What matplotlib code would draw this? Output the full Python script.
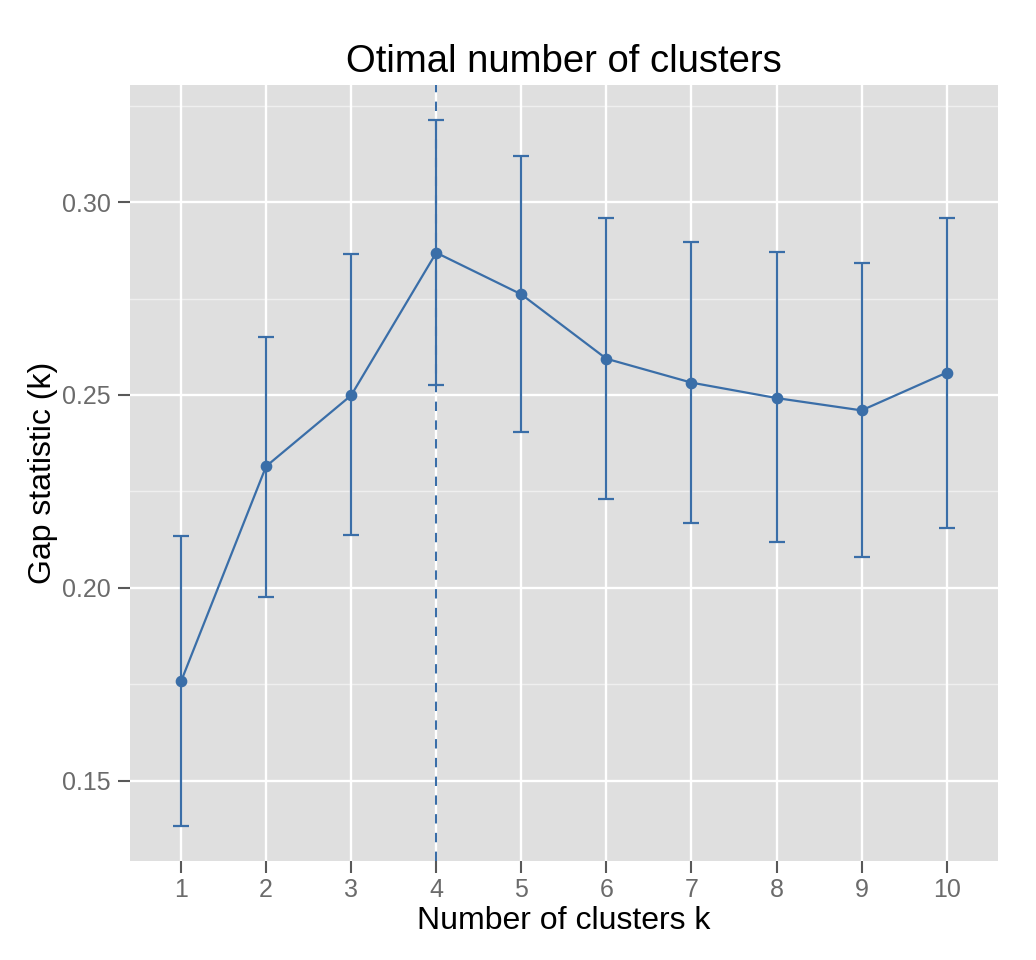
import matplotlib
matplotlib.use("Agg")
import matplotlib.pyplot as plt
from matplotlib.ticker import FixedLocator

plt.rcParams['font.family'] = ['Liberation Sans', 'DejaVu Sans']

k = [1, 2, 3, 4, 5, 6, 7, 8, 9, 10]
gap = [0.1757, 0.2315, 0.2499, 0.2869, 0.2761, 0.2594, 0.2532, 0.2492, 0.2460, 0.2558]
ymin = [0.1381, 0.1977, 0.2136, 0.2526, 0.2404, 0.2230, 0.2167, 0.2118, 0.2079, 0.2155]
ymax = [0.2134, 0.2650, 0.2866, 0.3212, 0.3121, 0.2959, 0.2898, 0.2870, 0.2843, 0.2960]
best_k = 4
yticks = [0.15, 0.20, 0.25, 0.30]
yminor = [0.125, 0.175, 0.225, 0.275, 0.325]
title = "Otimal number of clusters"
xlabel = "Number of clusters k"
ylabel = "Gap statistic (k)"

color = "#3a6ea8"

fig = plt.figure(figsize=(10.36, 9.6), dpi=100)
ax = fig.add_axes([130/1036, 1 - 860.7/960, (997.7-130)/1036, (860.7-85)/960])
ax.set_facecolor("#dfdfdf")
for s in ax.spines.values():
    s.set_visible(False)

ax.set_xlim(0.4, 10.6)
ax.set_ylim(0.1292, 0.3304)

# grid
for yv in yminor:
    ax.axhline(yv, color="#efefef", lw=1.0, zorder=0.5)
for yv in yticks:
    ax.axhline(yv, color="white", lw=1.7, zorder=0.6)
for xv in k:
    ax.axvline(xv, color="white", lw=1.7, zorder=0.6)

# vertical dashed line
ax.axvline(best_k, color=color, lw=1.5, linestyle=(0, (4.5, 4.5)), zorder=1)

# error bars
yerr_low = [g - lo for g, lo in zip(gap, ymin)]
yerr_high = [hi - g for g, hi in zip(gap, ymax)]
ax.errorbar(k, gap, yerr=[yerr_low, yerr_high], fmt='none', ecolor=color,
            elinewidth=1.6, capsize=6.1, capthick=1.6, zorder=2)
ax.plot(k, gap, color=color, lw=1.6, marker='o', markersize=7.4, zorder=3)

ax.xaxis.set_major_locator(FixedLocator(k))
ax.set_xticklabels([str(v) for v in k])
ax.yaxis.set_major_locator(FixedLocator(yticks))
ax.set_yticklabels(["%.2f" % v for v in yticks])
ax.tick_params(axis='both', which='major', length=8.3, width=1.5, color="#595959",
               labelcolor="#6b6b6b", labelsize=18)
ax.tick_params(axis='y', pad=5.5)
ax.tick_params(axis='x', pad=4)

ax.set_title(title, fontsize=27.5, color="black", pad=9)
ax.set_xlabel(xlabel, fontsize=23, labelpad=3)
ax.set_ylabel(ylabel, fontsize=23, labelpad=3)

fig.savefig("out.png", dpi=100, facecolor="white")
